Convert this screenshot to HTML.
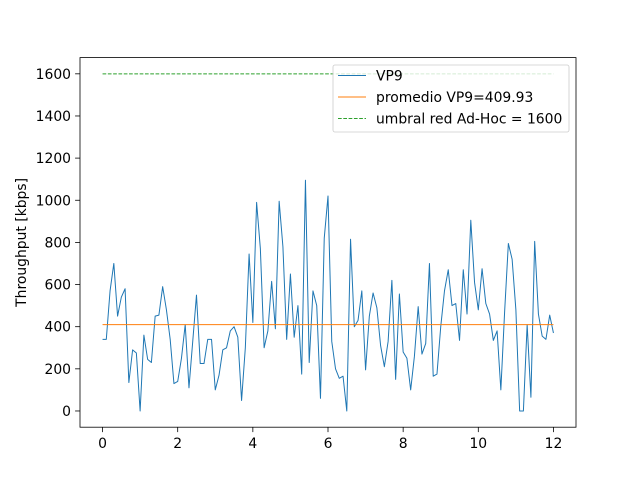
<!DOCTYPE html>
<html><head><meta charset="utf-8"><style>body{margin:0;background:#fff}svg{display:block;font-family:"DejaVu Sans","Liberation Sans",sans-serif}</style></head>
<body>
<svg id="chart" width="640" height="480"></svg>
<script>
const xStep = 0.1;
const vp9Values = [340,340,570,700,450,540,580,135,290,275,0,360,245,230,450,455,590,480,340,130,140,250,410,110,330,550,225,225,340,340,100,170,290,300,380,400,350,50,300,745,420,990,770,300,380,615,390,995,780,340,650,350,500,175,1095,230,570,500,60,820,1020,330,200,155,165,0,815,400,430,570,195,450,560,490,310,210,330,620,150,555,280,250,100,260,495,270,320,700,165,175,400,570,670,500,510,335,670,460,905,610,480,675,510,460,335,380,100,470,795,720,480,0,0,410,65,805,460,355,340,455,370];
const meanValue = [409.93];
const thresholdValue = [1600];
const xTicks = [0,2,4,6,8,10,12];
const yTicks = [0,200,400,600,800,1000,1200,1400,1600];

const NS="http://www.w3.org/2000/svg";
const svg=document.getElementById('chart');
const L=80,R=576,T=57.6,B=427.2;
const xMin=-0.6,xMax=12.6,yMin=-77,yMax=1677;
const FS=13.9;
const sx=v=>L+(v-xMin)/(xMax-xMin)*(R-L);
const sy=v=>B-(v-yMin)/(yMax-yMin)*(B-T);
function mk(tag,attrs,parent){const e=document.createElementNS(NS,tag);for(const k in attrs)e.setAttribute(k,attrs[k]);(parent||svg).appendChild(e);return e;}

const pts=vp9Values.map((v,i)=>sx(i*xStep).toFixed(2)+','+sy(v).toFixed(2)).join(' ');
const xEnd=(vp9Values.length-1)*xStep;
let ln=mk('polyline',{points:pts,fill:'none',stroke:'#1f77b4','stroke-width':1,'stroke-linejoin':'round'});


ln=mk('line',{x1:sx(0),x2:sx(xEnd),y1:sy(meanValue[0]),y2:sy(meanValue[0]),stroke:'#ff7f0e','stroke-width':1});


ln=mk('line',{x1:sx(0),x2:sx(xEnd),y1:sy(thresholdValue[0]),y2:sy(thresholdValue[0]),stroke:'#2ca02c','stroke-width':1,'stroke-dasharray':'3.7,1.6'});



const frame=mk('rect',{x:L,y:T,width:R-L,height:B-T,fill:'none',stroke:'#000','stroke-width':0.8});



xTicks.forEach(t=>{
  const x=sx(t);
  const tk=mk('line',{x1:x,x2:x,y1:B,y2:B+4.9,stroke:'#000','stroke-width':0.8});
  
  
  const tx=mk('text',{x:x,y:B+21,'text-anchor':'middle','font-size':FS});
  tx.textContent=t;
  
  
});
yTicks.forEach(t=>{
  const y=sy(t);
  const tk=mk('line',{x1:L-4.9,x2:L,y1:y,y2:y,stroke:'#000','stroke-width':0.8});
  
  
  const tx=mk('text',{x:L-9,y:y+5,'text-anchor':'end','font-size':FS});
  tx.textContent=t;
  
  
});
const yt=mk('text',{x:0,y:0,'text-anchor':'middle','font-size':FS,transform:`translate(26,${(T+B)/2}) rotate(-90)`});
yt.textContent='Throughput [kbps]';



const lg=mk('g',{});


mk('rect',{x:333,y:65,width:236,height:67,rx:2,fill:'#fff','fill-opacity':0.8,stroke:'#ccc','stroke-width':0.8},lg);
const entries=[['VP9','#1f77b4',null],['promedio VP9=409.93','#ff7f0e',null],['umbral red Ad-Hoc = 1600','#2ca02c','3.7,1.6']];
entries.forEach((e,i)=>{
  const y=75.5+i*21.5;
  const g=mk('g',{},lg);
  
  
  const a={x1:338,x2:366,y1:y,y2:y,stroke:e[1],'stroke-width':1};
  if(e[2])a['stroke-dasharray']=e[2];
  mk('line',a,g);
  const t=mk('text',{x:376,y:y+5,'font-size':FS},g);
  t.textContent=e[0];
});
</script>
</body></html>
